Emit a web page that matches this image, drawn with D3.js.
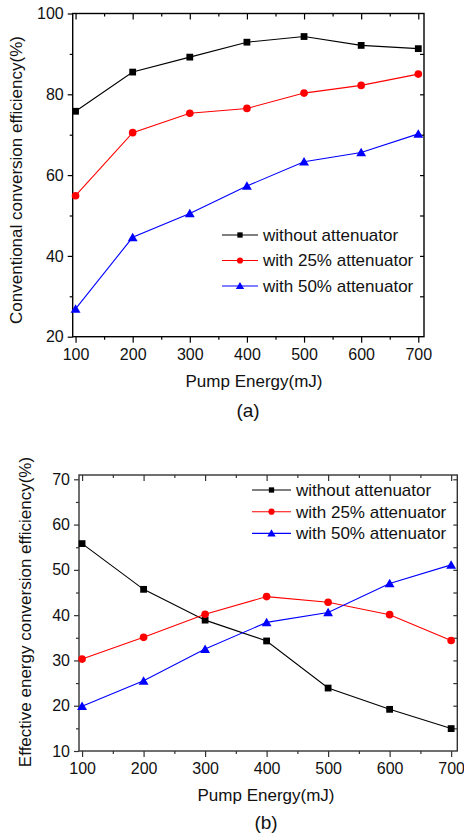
<!DOCTYPE html>
<html>
<head>
<meta charset="utf-8">
<script src="https://cdn.jsdelivr.net/npm/d3@7"></script>
<style>
  html, body { margin: 0; padding: 0; background: #fff; }
  svg { display: block; font-family: "Liberation Sans", Arial, sans-serif; }
</style>
</head>
<body>
<svg id="chart" width="464" height="840"></svg>
<script>
// Shared x categories (pump energy, mJ)
const pumpEnergy = [100, 200, 300, 400, 500, 600, 700];
const seriesNames = ['without attenuator', 'with 25% attenuator', 'with 50% attenuator'];

// (a) conventional conversion efficiency (%)
const convNoAtt = [75.8, 85.5, 89.2, 92.9, 94.3, 92.1, 91.3];
const conv25 = [54.9, 70.5, 75.3, 76.5, 80.3, 82.2, 85.0];
const conv50 = [26.9, 44.6, 50.5, 57.3, 63.3, 65.6, 70.2];
const convTicks = [20, 40, 60, 80, 100];

// (b) effective energy conversion efficiency (%)
const effNoAtt = [55.8, 45.7, 38.9, 34.3, 23.9, 19.2, 14.95];
const eff25 = [30.3, 35.1, 40.2, 44.1, 42.85, 40.1, 34.4];
const eff50 = [19.9, 25.5, 32.5, 38.4, 40.6, 47.0, 51.1];
const effTicks = [10, 20, 30, 40, 50, 60, 70];

const xTicks = [100, 200, 300, 400, 500, 600, 700];
const xMinor = [150, 250, 350, 450, 550, 650];

const colors = ['#000000', '#ff0000', '#0000ff'];
const symbols = [d3.symbolSquare, d3.symbolCircle, d3.symbolTriangle];
const markSize = [46, 46, 42];
const legMarkSize = [28, 30, 30];

const svg = d3.select('#chart');

function drawPanel(cfg) {
    const x = d3.scaleLinear().domain([95, 710]).range([cfg.left, cfg.right]);
    const y = d3.scaleLinear().domain(cfg.yDomain).range([cfg.bottom, cfg.top]);
    const g = svg.append('g');
    const ink = cfg.ink;

    // frame
    g.append('rect')
        .attr('x', cfg.left).attr('y', cfg.top)
        .attr('width', cfg.right - cfg.left).attr('height', cfg.bottom - cfg.top)
        .attr('fill', 'none').attr('stroke', ink).attr('stroke-width', 1.4);

    // bottom axis (outward ticks + labels)
    g.append('g').attr('transform', `translate(0,${cfg.bottom})`)
        .call(d3.axisBottom(x).tickValues(xMinor).tickSize(3).tickFormat(''));
    g.append('g').attr('transform', `translate(0,${cfg.bottom})`)
        .call(d3.axisBottom(x).tickValues(xTicks).tickSize(6).tickPadding(6).tickFormat(d3.format('d')));
    // top axis (inward)
    g.append('g').attr('transform', `translate(0,${cfg.top})`)
        .call(d3.axisBottom(x).tickValues(xMinor).tickSize(3).tickFormat(''));
    g.append('g').attr('transform', `translate(0,${cfg.top})`)
        .call(d3.axisBottom(x).tickValues(xTicks).tickSize(6).tickFormat(''));
    // left axis (outward ticks + labels)
    g.append('g').attr('transform', `translate(${cfg.left},0)`)
        .call(d3.axisLeft(y).tickValues(cfg.yMinor).tickSize(3).tickFormat(''));
    g.append('g').attr('transform', `translate(${cfg.left},0)`)
        .call(d3.axisLeft(y).tickValues(cfg.yTicks).tickSize(5).tickPadding(4).tickFormat(d3.format('d')));
    // right axis (inward)
    g.append('g').attr('transform', `translate(${cfg.right},0)`)
        .call(d3.axisLeft(y).tickValues(cfg.yRight).tickSize(4).tickFormat(''));

    g.selectAll('.domain').remove();
    g.selectAll('.tick line').attr('stroke', ink).attr('stroke-width', 1.2);
    g.selectAll('.tick text').attr('fill', '#111').style('font-size', cfg.tickFont + 'px');

    // series
    const line = d3.line().x((d, i) => x(pumpEnergy[i])).y(d => y(d));
    cfg.series.forEach((vals, s) => {
        g.append('path').datum(vals)
            .attr('d', line).attr('fill', 'none')
            .attr('stroke', colors[s]).attr('stroke-width', 1.1);
        g.selectAll(null).data(vals).enter().append('path')
            .attr('transform', (d, i) => `translate(${x(pumpEnergy[i])},${y(d) + (s === 2 ? 1 : 0)})`)
            .attr('d', d3.symbol().type(symbols[s]).size(markSize[s]))
            .attr('fill', colors[s]);
    });

    // legend
    seriesNames.forEach((name, s) => {
        const ly = cfg.legY + s * cfg.legGap;
        g.append('line')
            .attr('x1', cfg.legX).attr('x2', cfg.legX + cfg.legLen)
            .attr('y1', ly).attr('y2', ly)
            .attr('stroke', colors[s]).attr('stroke-width', 1.1);
        g.append('path')
            .attr('transform', `translate(${cfg.legX + cfg.legLen / 2},${ly + (s === 2 ? 0.7 : 0)})`)
            .attr('d', d3.symbol().type(symbols[s]).size(legMarkSize[s]))
            .attr('fill', colors[s]);
        g.append('text')
            .attr('x', cfg.legX + cfg.legLen + 5).attr('y', ly)
            .attr('dy', '0.35em').attr('fill', '#111')
            .style('font-size', cfg.legFont + 'px').text(name);
    });

    // titles
    g.append('text')
        .attr('x', cfg.xTitleX).attr('y', cfg.xTitleY)
        .attr('text-anchor', 'middle').attr('fill', '#111')
        .style('font-size', cfg.titleFont + 'px').text('Pump Energy(mJ)');
    g.append('text')
        .attr('transform', `translate(${cfg.yTitleX},${cfg.yTitleY}) rotate(-90)`)
        .attr('text-anchor', 'middle').attr('fill', '#111')
        .style('font-size', cfg.titleFont + 'px').text(cfg.yTitle);
    g.append('text')
        .attr('x', cfg.capX).attr('y', cfg.capY)
        .attr('text-anchor', 'middle').attr('fill', '#111')
        .style('font-size', '19px').text(cfg.caption);
}

drawPanel({
    left: 72.7, right: 424, top: 13.5, bottom: 336.7,
    yDomain: [20, 100], yTicks: convTicks,
    yMinor: [30, 50, 70, 90], yRight: [30, 40, 50, 60, 70, 80, 90],
    series: [convNoAtt, conv25, conv50], ink: '#000',
    tickFont: 16, legFont: 17, titleFont: 17,
    legX: 222, legLen: 36, legY: 235, legGap: 25.5,
    xTitleX: 254, xTitleY: 387, yTitleX: 22, yTitleY: 180,
    yTitle: 'Conventional conversion efficiency(%)',
    caption: '(a)', capX: 248, capY: 417
});

drawPanel({
    left: 79, right: 457.3, top: 475, bottom: 751,
    yDomain: [10, 70.95], yTicks: effTicks,
    yMinor: [15, 25, 35, 45, 55, 65],
    yRight: [15, 20, 25, 30, 35, 40, 45, 50, 55, 60, 65, 70],
    series: [effNoAtt, eff25, eff50], ink: '#333',
    tickFont: 16, legFont: 17, titleFont: 17,
    legX: 252, legLen: 39, legY: 490, legGap: 21.7,
    xTitleX: 266, xTitleY: 801, yTitleX: 31, yTitleY: 612,
    yTitle: 'Effective energy conversion efficiency(%)',
    caption: '(b)', capX: 266, capY: 829
});
</script>
</body>
</html>
